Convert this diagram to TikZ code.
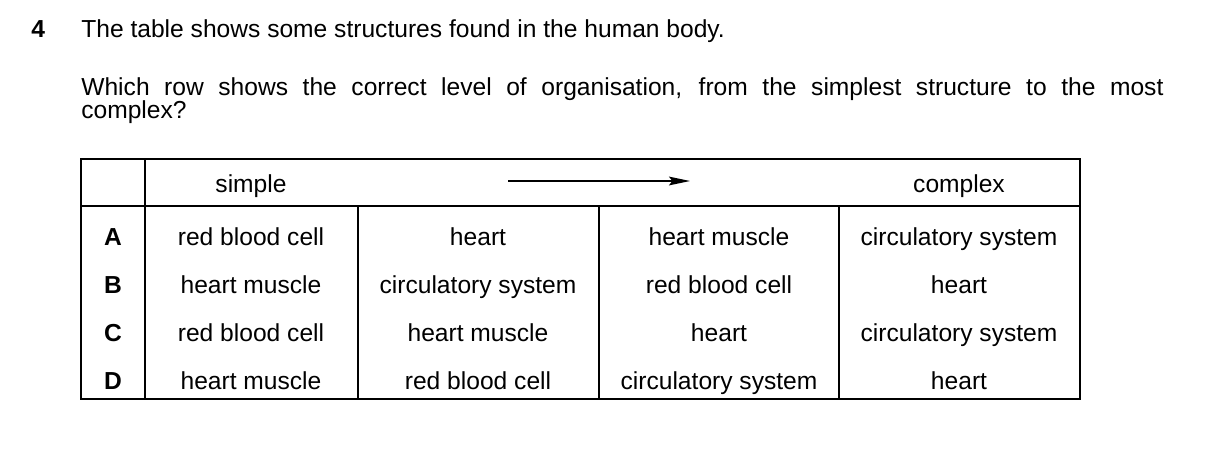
\documentclass[tikz,border=0pt]{standalone}
\usepackage{fontspec}
\setmainfont{Liberation Sans}
\usetikzlibrary{positioning,arrows.meta}
\tikzset{txt/.style={inner sep=0pt,font=\fontsize{14}{16}\selectfont},
  cell/.style={txt,anchor=base},
  lab/.style={txt,font=\fontsize{14}{16}\selectfont\bfseries}}

\begin{document}
\begin{tikzpicture}[x=0.02cm,y=-0.02cm,>=stealth]
    \useasboundingbox (0,0) rectangle (1209,450);
    \node[lab,anchor=base west] (qnum) at (31,37) {4};
    \node[txt,anchor=base west] (q1) at (81,37) {The table shows some structures found in the human body.};
    \node[txt,anchor=base west] (q2) at (81,95) {\makebox[615.9pt][s]{Which row shows the correct level of organisation, from the simplest structure to the most}};
    \node[txt,anchor=base west] (q3) at (81,118) {complex?};

    % table frame
    \draw[line width=0.6pt] (81,159) rectangle (1080,399);
    \draw[line width=0.6pt] (81,206) -- (1080,206);
    \draw[line width=0.6pt] (145,159) -- (145,399);
    \foreach \x in {358,599,839} \draw[line width=0.6pt] (\x,206) -- (\x,399);

    % header
    \node[cell] (simple) at (251,192) {simple};
    \node[cell] (complex) at (959,192) {complex};
    \coordinate (arrs) at (508,181);
    \coordinate (arre) at (690,181);
    \draw[->,line width=0.8pt,>={Stealth[length=12pt,width=5pt,inset=2pt]}] (arrs) -- (arre);

    % rows
    \foreach \r/\y/\a/\b/\c/\d in {
        A/245/red blood cell/heart/heart muscle/circulatory system,
        B/293/heart muscle/circulatory system/red blood cell/heart,
        C/341/red blood cell/heart muscle/heart/circulatory system,
        D/389/heart muscle/red blood cell/circulatory system/heart}{
      \node[lab,anchor=base] (row\r) at (113,\y) {\r};
      \node[cell] (c\r1) at (251,\y) {\a};
      \node[cell] (c\r2) at (478,\y) {\b};
      \node[cell] (c\r3) at (719,\y) {\c};
      \node[cell] (c\r4) at (959,\y) {\d};
    }
\end{tikzpicture}
\end{document}
